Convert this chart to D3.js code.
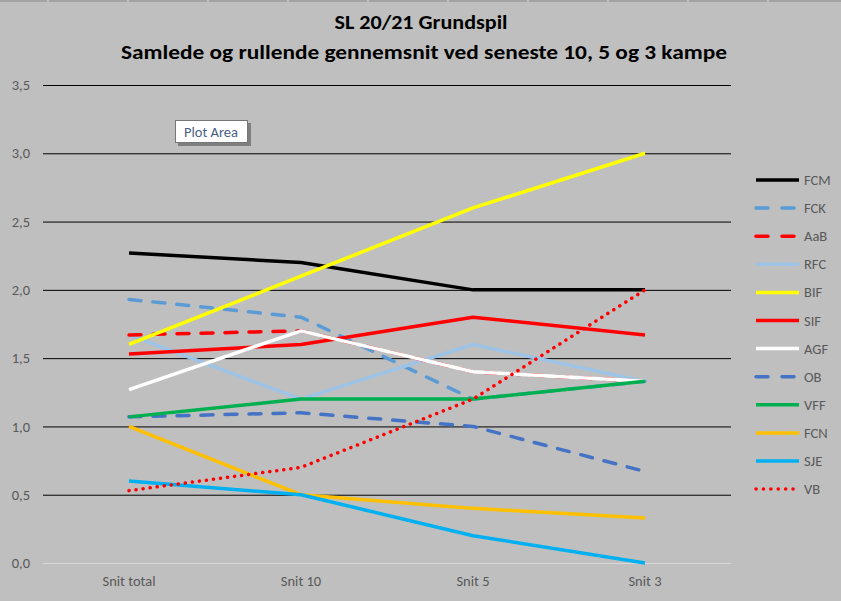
<!DOCTYPE html>
<meta charset="utf-8">
<style>
  body { margin: 0; background: #bfbfbf; }
  svg { display: block; }
  text { font-family: Carlito, "Open Sans", "Noto Sans", sans-serif; }
</style>
<svg width="841" height="601"></svg>
<script src="https://d3js.org/d3.v7.min.js"></script>
<script>

var categories = ["Snit total", "Snit 10", "Snit 5", "Snit 3"];
var yTicks = [0, 0.5, 1, 1.5, 2, 2.5, 3, 3.5];

var teams   = ["FCM", "FCK", "AaB", "RFC", "BIF", "SIF", "AGF", "OB", "VFF", "FCN", "SJE", "VB"];
var colors  = ["#000000", "#5b9bd5", "#ff0000", "#9dc3e6", "#ffff00", "#ff0000",
               "#ffffff", "#4472c4", "#00b050", "#ffc000", "#00b0f0", "#ff0000"];
var styles  = ["solid", "dash", "dash", "solid", "solid", "solid",
               "solid", "dash", "solid", "solid", "solid", "dot"];

var FCM = [2.27, 2.2, 2.0, 2.0];
var FCK = [1.93, 1.8, 1.2, 1.33];
var AaB = [1.67, 1.7, 1.4, 1.33];
var RFC = [1.67, 1.2, 1.6, 1.33];
var BIF = [1.6, 2.1, 2.6, 3.0];
var SIF = [1.53, 1.6, 1.8, 1.67];
var AGF = [1.27, 1.7, 1.4, 1.33];
var OB  = [1.07, 1.1, 1.0, 0.67];
var VFF = [1.07, 1.2, 1.2, 1.33];
var FCN = [1.0, 0.5, 0.4, 0.33];
var SJE = [0.6, 0.5, 0.2, 0.0];
var VB  = [0.53, 0.7, 1.2, 2.0];

var values = [FCM, FCK, AaB, RFC, BIF, SIF, AGF, OB, VFF, FCN, SJE, VB];

// draw order: later ones on top (as in the reference)
var drawOrder = [0, 1, 3, 2, 4, 5, 6, 7, 8, 9, 10, 11];

var svg = d3.select("svg"),
    width = 841, height = 601;

var plotLeft = 43, plotRight = 731, plotTop = 85, plotBottom = 563;

var x = d3.scaleBand().domain(categories).range([plotLeft, plotRight]);
var y = d3.scaleLinear().domain([0, 3.5]).range([plotBottom, plotTop]);

var fmt = function(d) { return d3.format(".1f")(d).replace(".", ","); };

function dashFor(s) {
  if (s === "dash") return "12 12";
  if (s === "dot") return "0.1 7";
  return null;
}

// sheet grid remnant at the top
svg.append("line").attr("x1", 0).attr("x2", width).attr("y1", 1).attr("y2", 1)
  .attr("stroke", "#9a9a9a").attr("stroke-width", 1.5);
d3.range(48, width, 80).forEach(function(px) {
  svg.append("line").attr("x1", px).attr("x2", px).attr("y1", 0).attr("y2", 2)
    .attr("stroke", "#e0e0e0");
});

// title
svg.append("text").attr("x", 421).attr("y", 29).attr("text-anchor", "middle")
  .attr("font-size", 20).attr("font-weight", "bold").attr("fill", "#000")
  .attr("textLength", 173).attr("lengthAdjust", "spacingAndGlyphs")
  .text("SL 20/21 Grundspil");
svg.append("text").attr("x", 424).attr("y", 59).attr("text-anchor", "middle")
  .attr("font-size", 20).attr("font-weight", "bold").attr("fill", "#000")
  .attr("textLength", 606).attr("lengthAdjust", "spacingAndGlyphs")
  .text("Samlede og rullende gennemsnit ved seneste 10, 5 og 3 kampe");

// gridlines + y labels
var yAxis = d3.axisLeft(y).tickValues(yTicks).tickSize(-(plotRight - plotLeft)).tickFormat(fmt).tickPadding(13);
var gy = svg.append("g").attr("transform", "translate(" + plotLeft + ",0)").call(yAxis);
gy.select(".domain").remove();
gy.selectAll(".tick line").attr("stroke", function(d) { return d === 0 ? "#d9d9d9" : "#000"; })
  .attr("stroke-width", 1);
gy.selectAll(".tick text").attr("font-size", 14.5).attr("fill", "#595959").attr("font-family", null);

var xAxis = d3.axisBottom(x).tickSize(0).tickPadding(13);
var gx = svg.append("g").attr("transform", "translate(0," + plotBottom + ")").call(xAxis);
gx.select(".domain").remove();
gx.selectAll(".tick text").attr("font-size", 14.5).attr("fill", "#595959");
gx.attr("font-family", null);
gy.attr("font-family", null);

// series
var line = d3.line()
  .x(function(d, i) { return x(categories[i]) + x.bandwidth() / 2; })
  .y(function(d) { return y(d); });

drawOrder.forEach(function(k) {
  svg.append("path")
    .attr("d", line(values[k]))
    .attr("fill", "none")
    .attr("stroke", colors[k])
    .attr("stroke-width", 3.5)
    .attr("stroke-linecap", styles[k] === "solid" ? "butt" : "round")
    .attr("stroke-linejoin", "round")
    .attr("stroke-dasharray", dashFor(styles[k]));
});

// plot area tooltip
var tip = svg.append("g").attr("transform", "translate(175,120)");
tip.append("rect").attr("x", 3).attr("y", 3).attr("width", 73).attr("height", 23).attr("fill", "#7f7f7f");
tip.append("rect").attr("x", 0.5).attr("y", 0.5).attr("width", 72).attr("height", 22)
  .attr("fill", "#fff").attr("stroke", "#767676");
tip.append("text").attr("x", 36).attr("y", 16.5).attr("text-anchor", "middle")
  .attr("font-size", 14.5).attr("fill", "#4a5f85").text("Plot Area");

// legend
var leg = svg.append("g");
teams.forEach(function(t, i) {
  var ly = 180 + i * 28.1;
  leg.append("line").attr("x1", 756).attr("x2", 799).attr("y1", ly).attr("y2", ly)
    .attr("stroke", colors[i]).attr("stroke-width", 3.5)
    .attr("stroke-linecap", styles[i] === "solid" ? "butt" : "round")
    .attr("stroke-dasharray", styles[i] === "dash" ? "12 14" : styles[i] === "dot" ? "0.1 7.3" : null);
  leg.append("text").attr("x", 804).attr("y", ly + 5).attr("font-size", 14.5)
    .attr("fill", "#595959").text(t);
});

</script>
